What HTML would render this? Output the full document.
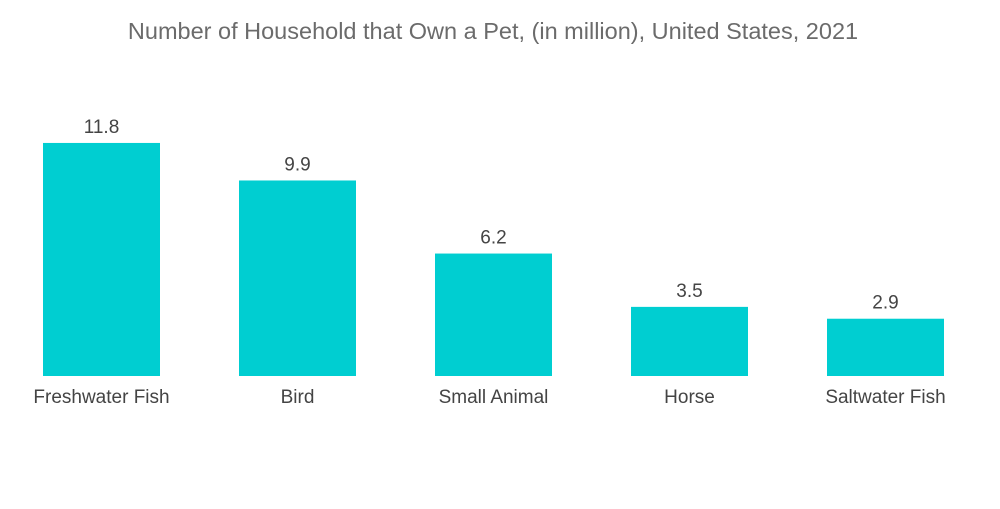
<!DOCTYPE html>
<html><head><meta charset="utf-8"><style>
body{margin:0;background:#fff;width:1000px;height:504px;overflow:hidden;font-family:"Liberation Sans",sans-serif}
</style></head><body>
<svg width="1000" height="504">
<text x="493" y="39" text-anchor="middle" font-size="23.5" fill="#6b6b6b">Number of Household that Own a Pet, (in million), United States, 2021</text>
<g id="bars"></g>
</svg>
<script>
const categories=["Freshwater Fish","Bird","Small Animal","Horse","Saltwater Fish"];
const values=[11.8,9.9,6.2,3.5,2.9];
const labels=["11.8","9.9","6.2","3.5","2.9"];
const left=3.5,band=196,barW=117,base=376,pxPerUnit=19.75;
const x=i=>left+i*band+(band-barW)/2;
const y=v=>base-v*pxPerUnit;
const g=document.getElementById('bars');
const ns='http://www.w3.org/2000/svg';
categories.forEach((c,i)=>{
 const r=document.createElementNS(ns,'rect');
 r.setAttribute('x',x(i));r.setAttribute('y',y(values[i]));
 r.setAttribute('width',barW);r.setAttribute('height',base-y(values[i]));
 r.setAttribute('fill','#00CED1');
 
 
 g.appendChild(r);
 const t=document.createElementNS(ns,'text');
 t.setAttribute('x',x(i)+barW/2);t.setAttribute('y',y(values[i])-10);
 t.setAttribute('text-anchor','middle');t.setAttribute('font-size','19');t.setAttribute('fill','#444');
 t.textContent=labels[i];
 
 
 g.appendChild(t);
 const l=document.createElementNS(ns,'text');
 l.setAttribute('x',x(i)+barW/2);l.setAttribute('y',403);
 l.setAttribute('text-anchor','middle');l.setAttribute('font-size','19');l.setAttribute('fill','#444');
 l.textContent=c;
 
 
 g.appendChild(l);
});
</script>
</body></html>
